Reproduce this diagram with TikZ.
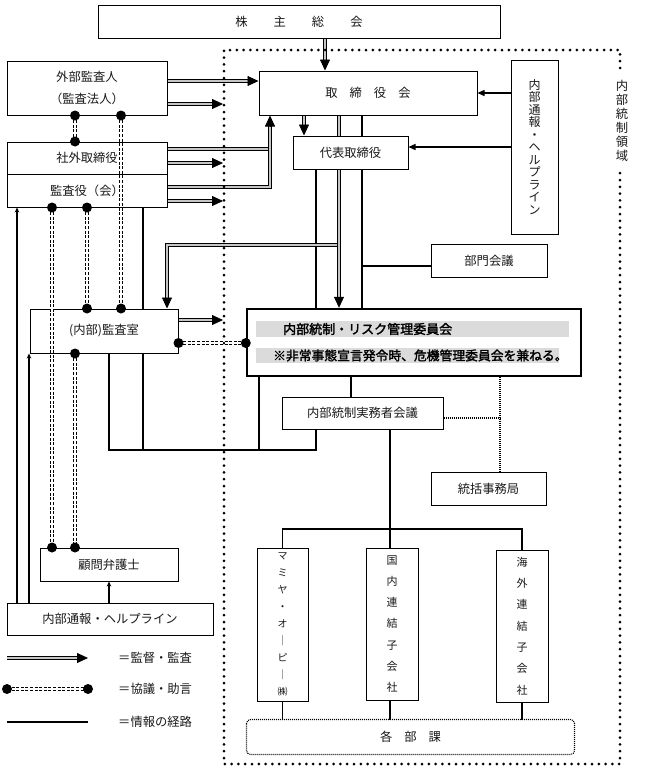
\documentclass[tikz,border=0pt]{standalone}
\usepackage{fontspec}
\setmainfont{Noto Sans CJK JP}[AutoFakeBold=2]
\usetikzlibrary{arrows.meta,backgrounds,calc}
\newcommand\jdot[1]{\fill #1 circle (5pt);}
\newcommand\dtip[2]{\draw[tipst] ($#2!11pt!#1$) -- #2;}
\begin{document}
\begin{tikzpicture}[x=1pt,y=-1pt,
  box/.style={draw, line width=1pt, fill=white, inner sep=0pt, text=black!90,
    font=\fontsize{12.3}{14}\selectfont, align=center},
  dbl/.style={double=gray!45, double distance=1.8pt, line width=0.8pt},
  dbls/.style={dbl, shorten >=10pt},
  tipst/.style={line width=0.8pt, -{Triangle[length=11pt,width=10pt]}},
  cons/.style={double, double distance=1.5pt, line width=1.2pt, dash pattern=on 3pt off 1.6pt},
  info/.style={line width=1.3pt},
  infoarr/.style={info, -{Stealth[length=5pt,width=4.5pt]}},
  thinarr/.style={line width=1.3pt, -{Triangle[length=7pt,width=6pt]}},
  bnd/.style={line width=3pt, line cap=round, dash pattern=on 0pt off 6.8pt},
  tdot/.style={line width=1.1pt, dash pattern=on 1pt off 1pt},
  leg/.style={anchor=west, inner sep=0pt, text=black!90, font=\fontsize{12.3}{14}\selectfont},
]
\begin{scope}[on background layer]
\fill[white] (0,0) rectangle (648,772);
\end{scope}
\useasboundingbox (0,0) rectangle (648,772);

% columns and rows
\foreach \c in {17,29,52,75,87,109,121,143,167,223,259,270,304,316,325,339,351,362,390,500}
  {\coordinate (X\c) at (\c,0);}
\foreach \r in {81,93,104,147,149,163,187,201,245,266,320,343,418,450,529}
  {\coordinate (Y\r) at (0,\r);}

% internal control boundary
\draw[bnd] (620,68) -- (620,50) -- (224,50) -- (224,764) -- (620,764) -- (620,170);
\node[inner sep=0pt, align=center, text=black!90, font=\fontsize{12.3}{14}\selectfont] (ryoiki) at (622,121)
  {内\\部\\統\\制\\領\\域};

% boxes
\node[box, minimum width=402pt, minimum height=33pt] (kabu) at (299,21.5)
  {株\hspace{26pt}主\hspace{26pt}総\hspace{26pt}会};
\node[box, minimum width=160pt, minimum height=54pt, font=\fontsize{12.3}{22}\selectfont] (gaibu) at (87,88)
  {外部監査人\\（監査法人）};
\node[box, minimum width=160pt, minimum height=32pt] (shagai) at (87,158) {社外取締役};
\node[box, minimum width=160pt, minimum height=33pt] (kansa) at (87,190.5) {監査役（会）};
\node[box, minimum width=218pt, minimum height=44pt] (tori) at (368,93)
  {取\hspace{12pt}締\hspace{12pt}役\hspace{12pt}会};
\node[box, minimum width=115pt, minimum height=33pt] (daihyo) at (350.5,152.5) {代表取締役};
\node[box, minimum width=47pt, minimum height=174pt, font=\fontsize{12}{12.5}\selectfont] (helpR) at (534.5,147)
  {内\\部\\通\\報\\・\\ヘ\\ル\\プ\\ラ\\イ\\ン};
\node[box, minimum width=116pt, minimum height=33pt] (bumon) at (489,260.5) {部門会議};
\node[box, line width=2.4pt, minimum width=334pt, minimum height=67pt] (iinkai) at (414,342.5) {};
\fill[gray!28] (256,321) rectangle (569,337);
\fill[gray!28] (256,348) rectangle (559,363);
\node[anchor=west, inner sep=0pt, font=\fontsize{13}{15}\selectfont\bfseries] (t1) at (283,329)
  {内部統制・リスク管理委員会};
\node[anchor=west, inner sep=0pt, font=\fontsize{12.8}{15}\selectfont\bfseries] (t2) at (273,355.5)
  {※非常事態宣言発令時、危機管理委員会を兼ねる。};
\node[box, minimum width=161pt, minimum height=32pt] (jitsumu) at (362.5,413) {内部統制実務者会議};
\node[box, minimum width=115pt, minimum height=33pt] (tokatsu) at (488.5,488.5) {統括事務局};
\node[box, minimum width=148pt, minimum height=44pt] (shitsu) at (104,331) {(内部)監査室};
\node[box, minimum width=138pt, minimum height=33pt] (komon) at (109,564.5) {顧問弁護士};
\node[box, minimum width=206pt, minimum height=32pt] (helpL) at (110,619) {内部通報・ヘルプライン};
\node[box, minimum width=51pt, minimum height=153pt, font=\fontsize{10}{17}\selectfont] (mamiya) at (282.5,624.5)
  {マ\\ミ\\ヤ\\・\\オ\\｜\\ピ\\｜\\㈱};
\node[box, minimum width=52pt, minimum height=152pt, font=\fontsize{11}{21.3}\selectfont] (kokunai) at (392,624)
  {国\\内\\連\\結\\子\\会\\社};
\node[box, minimum width=52pt, minimum height=152pt, font=\fontsize{11}{21.3}\selectfont] (kaigai) at (522,626)
  {海\\外\\連\\結\\子\\会\\社};
\node[box, draw=none, fill=none, minimum width=327pt, minimum height=34pt] (kakubuka) at (410.5,737)
  {各\hspace{12pt}部\hspace{12pt}課};
\draw[tdot, rounded corners=4pt] (kakubuka.north west) rectangle (kakubuka.south east);

% connectors behind boxes
\begin{scope}[on background layer]
\draw[dbls] (kabu.south -| X325) -- (tori.north -| X325);
\dtip{(kabu.south -| X325)}{(tori.north -| X325)}
\draw[dbls] (gaibu.east |- Y81) -- (tori.west |- Y81);
\dtip{(gaibu.east |- Y81)}{(tori.west |- Y81)}
\draw[dbls] (gaibu.east |- Y104) -- (X223 |- Y104);
\dtip{(gaibu.east |- Y104)}{(X223 |- Y104)}
\draw[dbl] (shagai.east |- Y149) -- (X270 |- Y149);
\draw[dbls] (kansa.east |- Y187) -- (X270 |- Y187) -- (tori.south -| X270);
\dtip{(X270 |- Y187)}{(tori.south -| X270)}
\draw[dbls] (shagai.east |- Y163) -- (X223 |- Y163);
\dtip{(shagai.east |- Y163)}{(X223 |- Y163)}
\draw[dbls] (kansa.east |- Y201) -- (X223 |- Y201);
\dtip{(kansa.east |- Y201)}{(X223 |- Y201)}
\draw[dbls] (tori.south -| X304) -- (daihyo.north -| X304);
\dtip{(tori.south -| X304)}{(daihyo.north -| X304)}
\draw[info] (tori.south -| X362) -- (iinkai.north -| X362);
\draw[info] (X362 |- Y266) -- (bumon.west |- Y266);
\draw[info] (daihyo.south -| X316) -- (iinkai.north -| X316);
\draw[dbls] (X339 |- Y245) -- (X167 |- Y245) -- (shitsu.north -| X167);
\dtip{(X167 |- Y245)}{(shitsu.north -| X167)}
\draw[dbls] (tori.south -| X339) -- (iinkai.north -| X339);
\dtip{(tori.south -| X339)}{(iinkai.north -| X339)}
\draw[thinarr] (helpR.west |- Y93) -- (tori.east |- Y93);
\draw[thinarr] (helpR.west |- Y147) -- (daihyo.east |- Y147);
\draw[dbls] (shitsu.east |- Y320) -- (X223 |- Y320);
\dtip{(shitsu.east |- Y320)}{(X223 |- Y320)}
% information routes
\draw[info] (kansa.south -| X143) -- (X143 |- Y450);
\draw[info] (shitsu.south -| X109) -- (X109 |- Y450) -- (X316 |- Y450) -- (jitsumu.south -| X316);
\draw[info] (iinkai.south -| X259) -- (X259 |- Y450);
\draw[info] (iinkai.south -| X351) -- (jitsumu.north -| X351);
\draw[info] (jitsumu.south -| X390) -- (kokunai.north -| X390);
\draw[info] (mamiya.north) -- (mamiya.north |- Y529) -- (kaigai.north |- Y529) -- (kaigai.north);
\draw[info] (mamiya.south) -- (kakubuka.north -| mamiya.south);
\draw[info] (kokunai.south -| X390) -- (kakubuka.north -| X390);
\draw[info] (kaigai.south) -- (kakubuka.north -| kaigai.south);
\draw[tdot] (jitsumu.east |- Y418) -- (X500 |- Y418);
\draw[tdot] (iinkai.south -| X500) -- (tokatsu.north -| X500);
\draw[infoarr] (helpL.north -| X17) -- (kansa.south -| X17);
\draw[infoarr] (helpL.north -| X29) -- (shitsu.south -| X29);
\draw[infoarr] (helpL.north -| X109) -- (komon.south -| X109);
\end{scope}

% consultation / advice links
\draw[cons] (gaibu.south -| X75) -- (shagai.north -| X75);
\jdot{(gaibu.south -| X75)} \jdot{(shagai.north -| X75)}
\draw[cons] (gaibu.south -| X121) -- (shitsu.north -| X121);
\jdot{(gaibu.south -| X121)} \jdot{(shitsu.north -| X121)}
\draw[cons] (kansa.south -| X52) -- (komon.north -| X52);
\jdot{(kansa.south -| X52)} \jdot{(komon.north -| X52)}
\draw[cons] (kansa.south -| X87) -- (shitsu.north -| X87);
\jdot{(kansa.south -| X87)} \jdot{(shitsu.north -| X87)}
\draw[cons] (shitsu.south -| X75) -- (komon.north -| X75);
\jdot{(shitsu.south -| X75)} \jdot{(komon.north -| X75)}
\draw[cons] (shitsu.east |- Y343) -- (iinkai.west |- Y343);
\jdot{(shitsu.east |- Y343)} \jdot{(iinkai.west |- Y343)}

% legend
\coordinate (L1a) at (7,658); \coordinate (L1b) at (88,658);
\draw[dbls] (L1a) -- (L1b);
\dtip{(L1a)}{(L1b)}
\node[leg] (leg1) at (118,658) {＝監督・監査};
\coordinate (L2a) at (7,689); \coordinate (L2b) at (88,689);
\draw[cons] (L2a) -- (L2b);
\jdot{(L2a)} \jdot{(L2b)}
\node[leg] (leg2) at (118,689) {＝協議・助言};
\coordinate (L3a) at (7,722); \coordinate (L3b) at (88,722);
\draw[line width=1.5pt] (L3a) -- (L3b);
\node[leg] (leg3) at (118,722) {＝情報の経路};
\end{tikzpicture}
\end{document}
